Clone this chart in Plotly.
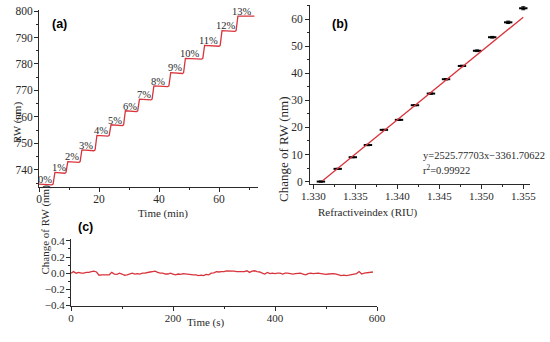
import plotly.graph_objects as go

# ---------- data ----------
# (a) stepwise resonance wavelength vs time
step_start = [0.0, 4.7, 9.0, 13.7, 18.7, 23.4, 28.2, 32.9, 37.7, 43.3, 48.2, 54.6, 60.4, 65.7]
step_level = [734.6, 739.0, 743.1, 747.5, 753.0, 757.0, 762.3, 766.7, 771.7, 776.7, 782.1, 787.0, 792.6, 798.1]
step_end_time = 71.8
step_labels = ["0%", "1%", "2%", "3%", "4%", "5%", "6%", "7%", "8%", "9%", "10%", "11%", "12%", "13%"]

# (b) change of RW vs refractive index
ri = [1.3309, 1.3329, 1.3347, 1.3365, 1.3384, 1.3402, 1.3421, 1.3440, 1.3458, 1.3477, 1.3495, 1.3513, 1.3532, 1.3550]
drw = [0.0, 4.7, 9.0, 13.5, 19.1, 22.8, 28.2, 32.5, 37.8, 42.7, 48.3, 53.3, 58.8, 64.0]
drw_err = [0.2, 0.2, 0.2, 0.25, 0.2, 0.2, 0.2, 0.25, 0.25, 0.25, 0.3, 0.3, 0.45, 0.55]
fit_slope = 2525.77703
fit_intercept = -3361.70622
fit_r2 = "0.99922"
fit_x = [1.3311, 1.3550]

# (c) stability over time
t_s = [0, 5, 10, 15, 20, 25, 30, 35, 40, 45, 50, 55, 60, 65, 70, 75, 80, 85, 90, 95,
       100, 105, 110, 115, 120, 125, 130, 135, 140, 145, 150, 155, 160, 165, 170, 175, 180, 185, 190, 195,
       200, 205, 210, 215, 220, 225, 230, 235, 240, 245, 250, 255, 260, 265, 270, 275, 280, 285, 290, 295,
       300, 305, 310, 315, 320, 325, 330, 335, 340, 345, 350, 355, 360, 365, 370, 375, 380, 385, 390, 395,
       400, 405, 410, 415, 420, 425, 430, 435, 440, 445, 450, 455, 460, 465, 470, 475, 480, 485, 490, 495,
       500, 505, 510, 515, 520, 525, 530, 535, 540, 545, 550, 555, 560, 565, 570, 575, 580, 585, 592]
d_s = [0.00, 0.02, 0.00, 0.01, 0.00, 0.00, 0.01, 0.01, 0.02, 0.025, 0.015, -0.025, -0.02, -0.02, -0.015, -0.02, 0.01, -0.01, -0.015, 0.0,
       -0.01, -0.025, -0.02, -0.01, 0.0, -0.01, -0.005, -0.01, 0.0, 0.0, 0.01, 0.015, 0.02, 0.025, 0.01, 0.0, 0.0, -0.01, -0.01, 0.0,
       -0.01, -0.02, -0.01, -0.015, -0.005, -0.01, -0.01, -0.015, -0.02, -0.02, -0.03, -0.025, -0.03, -0.015, -0.02, 0.0, 0.005, 0.02, 0.015, 0.02,
       0.02, 0.03, 0.03, 0.03, 0.025, 0.02, 0.02, 0.025, 0.02, 0.03, 0.01, 0.025, 0.03, 0.02, 0.015, 0.0, -0.01, 0.01, -0.005, 0.0,
       -0.005, 0.0, 0.0, -0.01, 0.0, 0.0, -0.005, -0.01, -0.005, 0.0, 0.0, -0.01, -0.02, -0.005, 0.0, -0.005, 0.0, 0.0, -0.005, -0.01,
       -0.015, -0.01, -0.005, -0.005, -0.01, -0.02, -0.03, -0.025, -0.03, -0.025, -0.02, -0.015, -0.005, 0.02, -0.01, 0.0, 0.005, 0.01, 0.015]

RED = "#d8343c"
INK = "#2a2a2a"
SERIF = "Liberation Serif"
SANS = "Liberation Sans"

W, H = 550, 342


def px(xp):
    return xp / W


def py(yp):
    return 1 - yp / H


# build stair line for (a)
rise = 0.6
ax_x, ax_y = [], []
for i, (s, lv) in enumerate(zip(step_start, step_level)):
    end = step_start[i + 1] if i + 1 < len(step_start) else step_end_time
    if i == 0:
        ax_x.append(s); ax_y.append(lv)
    else:
        ax_x.append(s + rise); ax_y.append(lv)
    if i + 1 < len(step_start):
        ax_x.append(end - 0.4); ax_y.append(lv - 0.3)
        ax_x.append(end); ax_y.append(lv)
    else:
        ax_x.append(end); ax_y.append(lv)

fig = go.Figure()
fig.add_trace(go.Scatter(x=ax_x, y=ax_y, mode="lines", line=dict(color=RED, width=1.3),
                         xaxis="x", yaxis="y", showlegend=False, cliponaxis=False))

fig.add_trace(go.Scatter(x=ri, y=drw, mode="markers",
                         marker=dict(symbol="line-ew", size=6, line=dict(color="black", width=2)),
                         error_y=dict(type="data", array=drw_err, color="black", thickness=1, width=2),
                         xaxis="x2", yaxis="y2", showlegend=False, cliponaxis=False))
fig.add_trace(go.Scatter(x=fit_x, y=[fit_slope * v + fit_intercept for v in fit_x], mode="lines",
                         line=dict(color=RED, width=1.3), xaxis="x2", yaxis="y2", showlegend=False))

fig.add_trace(go.Scatter(x=t_s, y=d_s, mode="lines", line=dict(color=RED, width=1.3),
                         xaxis="x3", yaxis="y3", showlegend=False))


def axis(domain, rng, dtick, minor, anchor, fmt=None, tick0=None, fs=11, standoff=0):
    d = dict(domain=domain, range=rng, dtick=dtick, anchor=anchor, automargin=False,
             showline=True, linecolor=INK, linewidth=1, showgrid=False, zeroline=False,
             ticks="outside", ticklen=4, tickcolor=INK, tickwidth=1,
             ticklabelstandoff=standoff,
             tickfont=dict(family=SERIF, size=fs, color=INK),
             minor=dict(dtick=minor, ticks="outside", ticklen=2, tickcolor=INK, showgrid=False))
    if fmt:
        d["tickformat"] = fmt
    if tick0 is not None:
        d["tick0"] = tick0
    return d


fig.update_layout(
    width=W, height=H, margin=dict(l=0, r=0, t=0, b=0, autoexpand=False),
    paper_bgcolor="white", plot_bgcolor="white", hovermode=False,
    xaxis=axis([px(39), px(258)], [0, 73], 20, 10, "y", fs=11.5, standoff=-3),
    yaxis=axis([py(186.7), py(10)], [733.6, 800.4], 10, 5, "x", tick0=740, fs=11.5, standoff=-1),
    xaxis2=axis([px(310), px(530)], [1.3296, 1.3558], 0.005, 0.0025, "y2", fmt=".3f", tick0=1.330, standoff=-3),
    yaxis2=axis([py(184.3), py(5)], [-1.0, 65.2], 10, 5, "x2", fs=11.5, standoff=0),
    xaxis3=axis([px(71), px(377)], [0, 600], 200, 100, "y3", standoff=-2),
    yaxis3=axis([py(305.5), py(238.5)], [-0.4, 0.43], 0.2, 0.1, "x3", fmt=".1f", tick0=0, standoff=-1),
)

ann = []
# step labels in (a)
for s, lv, lab in zip(step_start, step_level, step_labels):
    ann.append(dict(x=s + 2.0, y=lv + 1.8, xref="x", yref="y", text=lab, showarrow=False,
                    font=dict(family=SERIF, size=10.5, color=INK)))
# panel letters
lfont = dict(family=SANS, size=12.5, color="black")
ann.append(dict(x=px(50), y=py(15), xref="paper", yref="paper", text="<b>(a)</b>", showarrow=False,
                xanchor="left", font=lfont))
ann.append(dict(x=px(330), y=py(15), xref="paper", yref="paper", text="<b>(b)</b>", showarrow=False,
                xanchor="left", font=lfont))
ann.append(dict(x=px(76), y=py(236), xref="paper", yref="paper", text="<b>(c)</b>", showarrow=False,
                xanchor="left", font=lfont))
# axis titles
tfont = dict(family=SERIF, size=11, color=INK)
ann.append(dict(x=px(9), y=py(100), xref="paper", yref="paper", text="RW (nm)", textangle=-90,
                showarrow=False, font=tfont))
ann.append(dict(x=px(136), y=py(213), xref="paper", yref="paper", text="Time (min)",
                showarrow=False, font=tfont))
ann.append(dict(x=px(283), y=py(94), xref="paper", yref="paper", text="Change of RW (nm)", textangle=-90,
                showarrow=False, font=dict(family=SERIF, size=13, color=INK)))
ann.append(dict(x=px(420), y=py(212), xref="paper", yref="paper", text="Refractiveindex (RIU)",
                showarrow=False, font=tfont))
ann.append(dict(x=px(36), y=py(277), xref="paper", yref="paper", text="Change of RW (nm)", textangle=-90,
                showarrow=False, font=tfont))
ann.append(dict(x=px(206), y=py(331), xref="paper", yref="paper", text="Time (s)",
                showarrow=False, font=tfont))
# fit equation
efont = dict(family=SERIF, size=10.5, color=INK)
ann.append(dict(x=px(421), y=py(155), xref="paper", yref="paper",
                text=f"y={fit_slope:.5f}x\u2212{abs(fit_intercept):.5f}", xanchor="left",
                showarrow=False, font=efont))
ann.append(dict(x=px(421), y=py(169), xref="paper", yref="paper",
                text=f"r<sup>2</sup>={fit_r2}", xanchor="left",
                showarrow=False, font=efont))
fig.update_layout(annotations=ann)

# the page body's default 8px margin would shift the figure; remove it
fig.write_html("out.html", config={"displayModeBar": False, "staticPlot": True},
               post_script="document.body.style.margin='0px';")
